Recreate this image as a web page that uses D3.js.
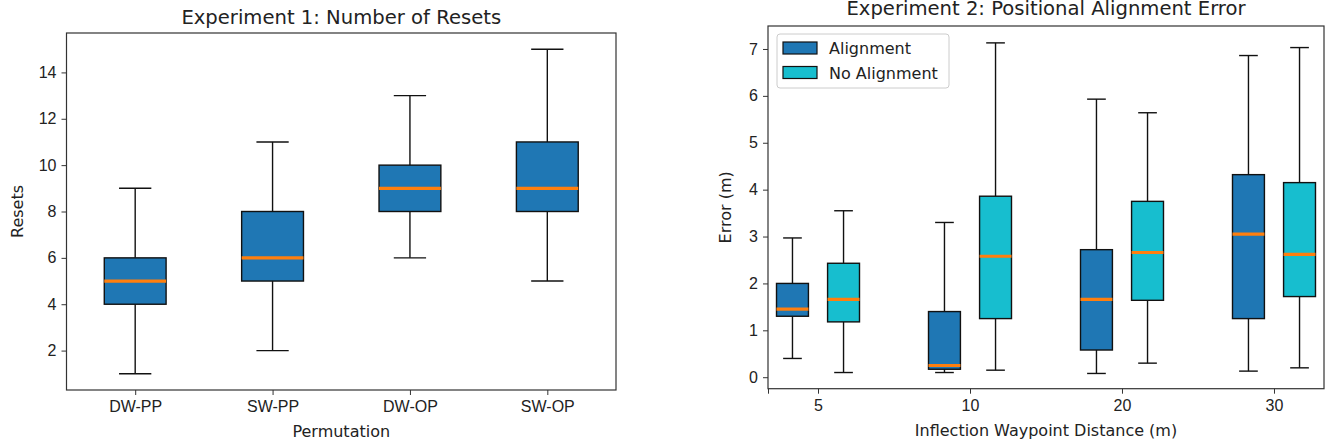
<!DOCTYPE html>
<html>
<head>
<meta charset="utf-8">
<script src="https://d3js.org/d3.v7.min.js"></script>
<style>
body { margin: 0; background: #fff; }
svg { display: block; font-family: "DejaVu Sans", sans-serif; }
.tick text { font-size: 16px; fill: #222; }
.tick line { stroke: #333; }
</style>
</head>
<body>
<svg id="chart" width="1326" height="445"></svg>
<script>
// Experiment 1 data: [min, q1, median, q3, max]
var permutations = ["DW-PP", "SW-PP", "DW-OP", "SW-OP"];
var resetsMin = [1, 2, 6, 5];
var resetsQ1 = [4, 5, 8, 8];
var resetsMed = [5, 6, 9, 9];
var resetsQ3 = [6, 8, 10, 11];
var resetsMax = [9, 11, 13, 15];
var resetTicks = [2, 4, 6, 8, 10, 12, 14];

// Experiment 2 data
var distances = ["5", "10", "20", "30"];
var alignMin = [0.4, 0.1, 0.08, 0.13];
var alignQ1 = [1.3, 0.17, 0.58, 1.25];
var alignMed = [1.45, 0.25, 1.66, 3.05];
var alignQ3 = [2.0, 1.4, 2.72, 4.32];
var alignMax = [2.97, 3.3, 5.93, 6.86];
var noAlignMin = [0.1, 0.15, 0.3, 0.2];
var noAlignQ1 = [1.18, 1.25, 1.64, 1.72];
var noAlignMed = [1.66, 2.58, 2.66, 2.62];
var noAlignQ3 = [2.43, 3.86, 3.75, 4.15];
var noAlignMax = [3.55, 7.13, 5.64, 7.03];
var errorTicks = [0, 1, 2, 3, 4, 5, 6, 7];
var seriesNames = ["Alignment", "No Alignment"];

var blue = "#1f77b4", cyan = "#17becf", orange = "#ff7f0e";
var svg = d3.select("#chart");

function makeBoxes(mins, q1s, meds, q3s, maxs) {
  return mins.map(function(d, i) {
    return {pos: i + 1, min: mins[i], q1: q1s[i], med: meds[i], q3: q3s[i], max: maxs[i]};
  });
}

function drawBoxes(g, boxes, xScale, yScale, offset, boxW, capW, fill, medW) {
  var grp = g.selectAll(null).data(boxes).enter().append("g");
  // whiskers
  grp.append("line")
    .attr("x1", function(d) { return xScale(d.pos + offset); })
    .attr("x2", function(d) { return xScale(d.pos + offset); })
    .attr("y1", function(d) { return yScale(d.q3); })
    .attr("y2", function(d) { return yScale(d.max); })
    .attr("stroke", "#111").attr("stroke-width", 1.4);
  grp.append("line")
    .attr("x1", function(d) { return xScale(d.pos + offset); })
    .attr("x2", function(d) { return xScale(d.pos + offset); })
    .attr("y1", function(d) { return yScale(d.q1); })
    .attr("y2", function(d) { return yScale(d.min); })
    .attr("stroke", "#111").attr("stroke-width", 1.4);
  // caps
  ["min", "max"].forEach(function(k) {
    grp.append("line")
      .attr("x1", function(d) { return xScale(d.pos + offset - capW / 2); })
      .attr("x2", function(d) { return xScale(d.pos + offset + capW / 2); })
      .attr("y1", function(d) { return yScale(d[k]); })
      .attr("y2", function(d) { return yScale(d[k]); })
      .attr("stroke", "#111").attr("stroke-width", 1.4);
  });
  // box
  grp.append("rect")
    .attr("x", function(d) { return xScale(d.pos + offset - boxW / 2); })
    .attr("width", function(d) { return xScale(d.pos + boxW) - xScale(d.pos); })
    .attr("y", function(d) { return yScale(d.q3); })
    .attr("height", function(d) { return yScale(d.q1) - yScale(d.q3); })
    .attr("fill", fill).attr("stroke", "#111").attr("stroke-width", 1.4);
  // median
  grp.append("line")
    .attr("x1", function(d) { return xScale(d.pos + offset - boxW / 2); })
    .attr("x2", function(d) { return xScale(d.pos + offset + boxW / 2); })
    .attr("y1", function(d) { return yScale(d.med); })
    .attr("y2", function(d) { return yScale(d.med); })
    .attr("stroke", orange).attr("stroke-width", medW);
}

function drawFrame(left, right, top, bottom) {
  svg.append("rect")
    .attr("x", left).attr("y", top)
    .attr("width", right - left).attr("height", bottom - top)
    .attr("fill", "none").attr("stroke", "#333").attr("stroke-width", 1.2);
}

// ---------- Experiment 1 ----------
var L1 = 66.5, R1 = 616, T1 = 33, B1 = 390;
var x1 = d3.scaleLinear().domain([0.5, 4.5]).range([L1, R1]);
var y1 = d3.scaleLinear().domain([0.3, 15.7]).range([B1, T1]);

var g1 = svg.append("g");
drawBoxes(g1, makeBoxes(resetsMin, resetsQ1, resetsMed, resetsQ3, resetsMax), x1, y1, 0, 0.45, 0.235, blue, 3.2);

svg.append("g").attr("transform", "translate(" + L1 + ",0)")
  .call(d3.axisLeft(y1).tickValues(resetTicks).tickSize(5).tickPadding(5))
  .call(function(g) { g.select(".domain").remove(); });
svg.append("g").attr("transform", "translate(0," + B1 + ")")
  .call(d3.axisBottom(x1).tickValues([1, 2, 3, 4]).tickSize(5).tickPadding(6)
    .tickFormat(function(d) { return permutations[d - 1]; }))
  .call(function(g) { g.select(".domain").remove(); });
drawFrame(L1, R1, T1, B1);

svg.append("text").attr("x", (L1 + R1) / 2).attr("y", 24)
  .attr("text-anchor", "middle").attr("font-size", 19.6).attr("fill", "#222")
  .text("Experiment 1: Number of Resets");
svg.append("text").attr("x", (L1 + R1) / 2).attr("y", 437)
  .attr("text-anchor", "middle").attr("font-size", 16).attr("fill", "#222")
  .text("Permutation");
svg.append("text").attr("transform", "translate(23," + (T1 + B1) / 2 + ") rotate(-90)")
  .attr("text-anchor", "middle").attr("font-size", 16).attr("fill", "#222")
  .text("Resets");

// ---------- Experiment 2 ----------
var L2 = 768, R2 = 1324, T2 = 26, B2 = 388.7;
var x2 = d3.scaleLinear().domain([0.671, 4.329]).range([L2, R2]);
var y2 = d3.scaleLinear().domain([-0.245, 7.49]).range([B2, T2]);

var g2 = svg.append("g");
drawBoxes(g2, makeBoxes(alignMin, alignQ1, alignMed, alignQ3, alignMax), x2, y2, -0.168, 0.21, 0.123, blue, 3.2);
drawBoxes(g2, makeBoxes(noAlignMin, noAlignQ1, noAlignMed, noAlignQ3, noAlignMax), x2, y2, 0.168, 0.21, 0.123, cyan, 3.2);

svg.append("g").attr("transform", "translate(" + L2 + ",0)")
  .call(d3.axisLeft(y2).tickValues(errorTicks).tickSize(5).tickPadding(5))
  .call(function(g) { g.select(".domain").remove(); });
svg.append("g").attr("transform", "translate(0," + B2 + ")")
  .call(d3.axisBottom(x2).tickValues([0.671, 1, 2, 3, 4]).tickSize(5).tickPadding(6)
    .tickFormat(function(d) { return d < 1 ? "" : distances[d - 1]; }))
  .call(function(g) { g.select(".domain").remove(); });
drawFrame(L2, R2, T2, B2);

svg.append("text").attr("x", (L2 + R2) / 2).attr("y", 15)
  .attr("text-anchor", "middle").attr("font-size", 19.6).attr("fill", "#222")
  .text("Experiment 2: Positional Alignment Error");
svg.append("text").attr("x", (L2 + R2) / 2).attr("y", 436)
  .attr("text-anchor", "middle").attr("font-size", 16).attr("fill", "#222")
  .text("Inflection Waypoint Distance (m)");
svg.append("text").attr("transform", "translate(731," + (T2 + B2) / 2 + ") rotate(-90)")
  .attr("text-anchor", "middle").attr("font-size", 16).attr("fill", "#222")
  .text("Error (m)");

// legend
var legend = svg.append("g").attr("transform", "translate(777,34)");
legend.append("rect").attr("width", 172).attr("height", 54).attr("rx", 3)
  .attr("fill", "#fff").attr("fill-opacity", 0.8)
  .attr("stroke", "#ccc").attr("stroke-width", 1);
var items = legend.selectAll(null).data(seriesNames).enter().append("g")
  .attr("transform", function(d, i) { return "translate(6," + (8 + i * 24.5) + ")"; });
items.append("rect").attr("width", 34).attr("height", 12)
  .attr("fill", function(d, i) { return i === 0 ? blue : cyan; })
  .attr("stroke", "#111").attr("stroke-width", 1.2);
items.append("text").attr("x", 46).attr("y", 12).attr("font-size", 16).attr("fill", "#222")
  .text(function(d) { return d; });
</script>
</body>
</html>
